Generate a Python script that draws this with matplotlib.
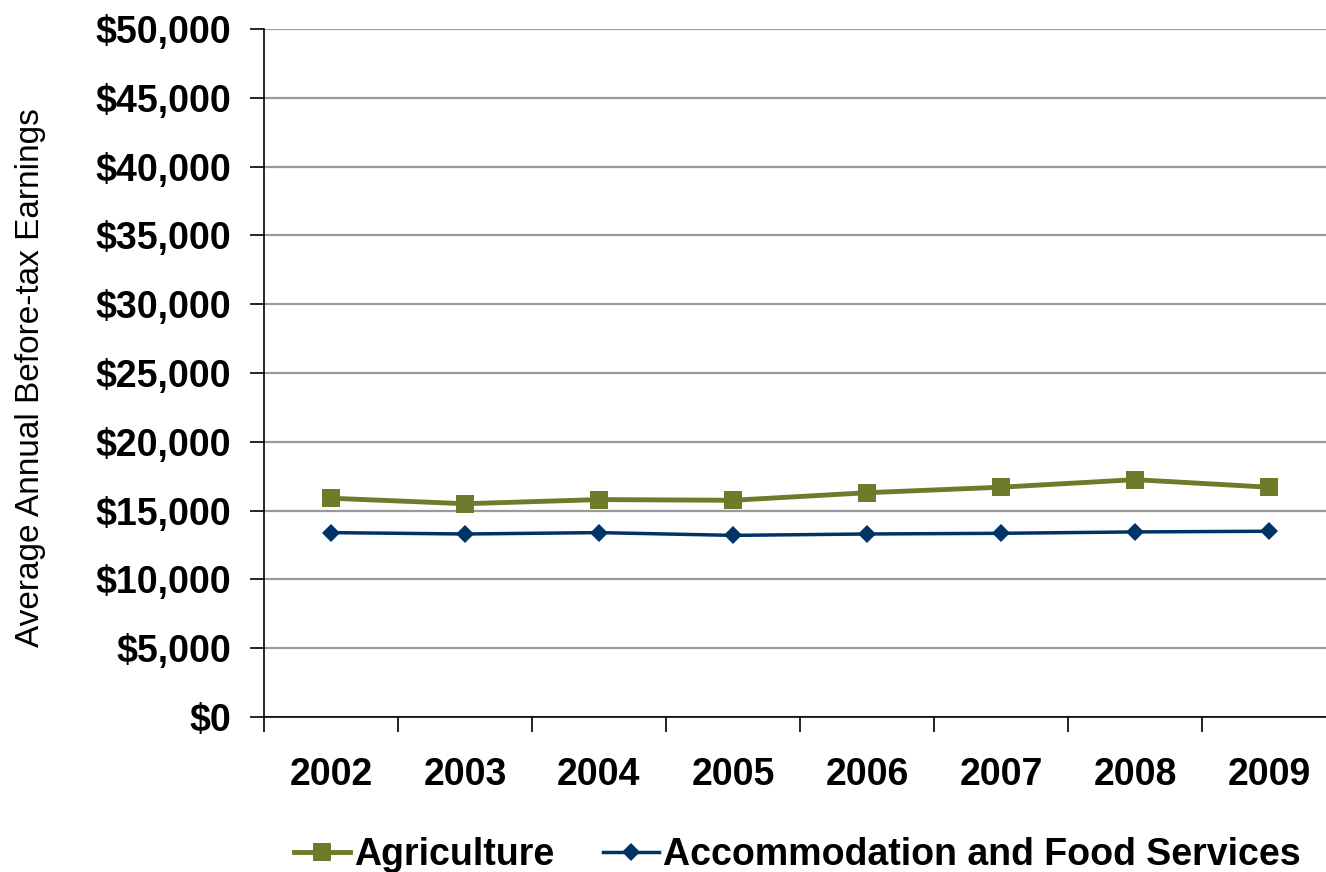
import matplotlib
matplotlib.use("Agg")
import matplotlib.pyplot as plt
from matplotlib.ticker import FuncFormatter, MultipleLocator

years = ["2002", "2003", "2004", "2005", "2006", "2007", "2008", "2009"]
agriculture = [15900, 15500, 15800, 15750, 16300, 16700, 17250, 16700]
accommodation = [13400, 13300, 13400, 13200, 13300, 13350, 13450, 13500]

W, H = 1326, 872
fig = plt.figure(figsize=(W / 100, H / 100), dpi=100)
font = "Liberation Sans"

left, bottom, top = 264, 717, 29
width = 134 * len(years)
ax = fig.add_axes([left / W, (H - bottom) / H, width / W, (bottom - top) / H])

x = list(range(len(years)))
ax.plot(x, agriculture, color="#6f7a2b", lw=3.5, marker="s", ms=13.5,
        markeredgewidth=0, label="Agriculture", zorder=3)
ax.plot(x, accommodation, color="#003366", lw=2.5, marker="D", ms=9.5,
        markeredgewidth=0, label="Accommodation and Food Services", zorder=3)

ax.set_xlim(-0.5, len(years) - 0.5)
ax.set_ylim(0, 50000)
ax.yaxis.set_major_locator(MultipleLocator(5000))
ax.yaxis.set_major_formatter(FuncFormatter(lambda v, p: f"${v:,.0f}"))
ax.grid(axis="y", color="#9a9a9a", lw=1.6, zorder=0)
ax.set_axisbelow(True)

# category boundaries carry the tick marks, centres carry the labels
ax.set_xticks([i - 0.5 for i in x])
ax.set_xticklabels([])
ax.set_xticks(x, minor=True)
ax.set_xticklabels(years, minor=True)
ax.tick_params(axis="x", which="major", direction="out", length=11, width=1.2)
ax.tick_params(axis="x", which="minor", length=0, pad=28.5)
ax.tick_params(axis="y", direction="out", length=10, width=1.2, pad=13.5)

for lab in ax.get_xticklabels(minor=True) + ax.get_yticklabels():
    lab.set_fontfamily(font)
    lab.set_fontweight("bold")
    lab.set_fontsize(27)

for s in ("top", "right"):
    ax.spines[s].set_visible(False)
for s in ("left", "bottom"):
    ax.spines[s].set_linewidth(1.2)

fig.text(31 / W, (H - 378) / H, "Average Annual Before-tax Earnings",
         rotation=90, ha="center", va="center", fontsize=24,
         fontfamily=font)

fig.legend(loc="center", bbox_to_anchor=(797 / W, (H - 855) / H),
           ncol=2, frameon=False, handlelength=1.5, handletextpad=0.1,
           columnspacing=1.3,
           prop={"family": font, "weight": "bold", "size": 27})

fig.savefig("out.png", dpi=100)
